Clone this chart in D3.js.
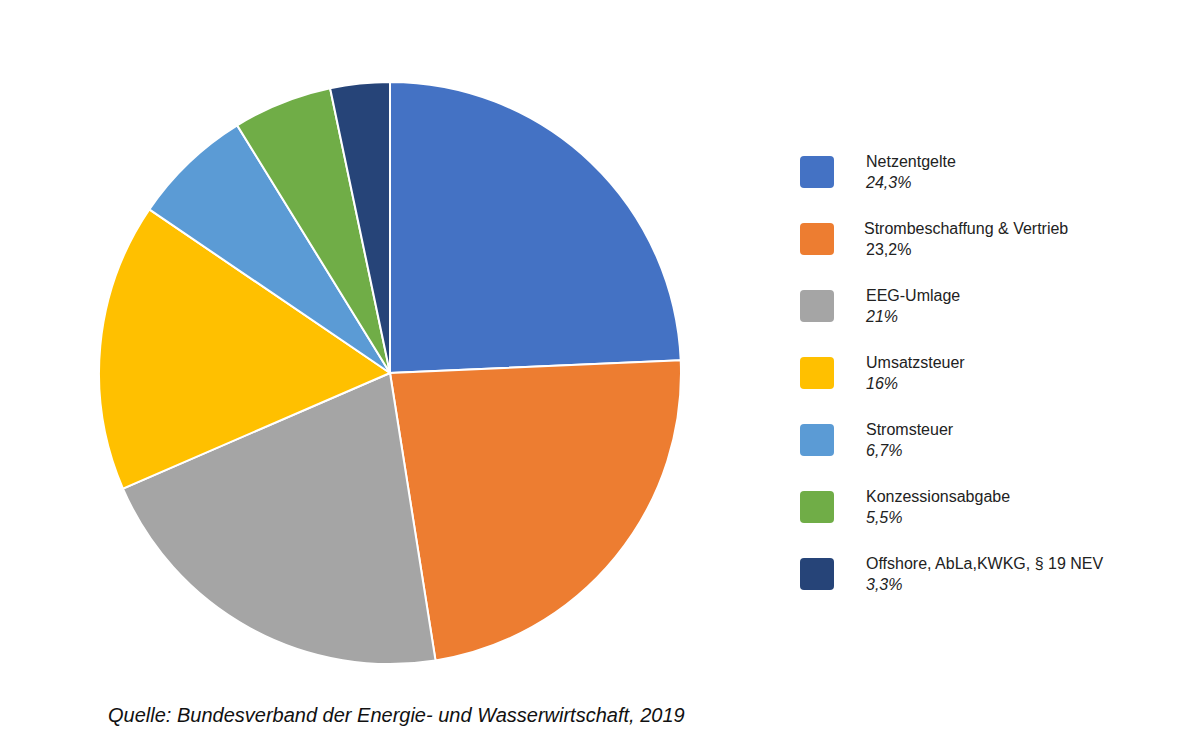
<!DOCTYPE html>
<html><head><meta charset="utf-8">
<script src="https://cdn.jsdelivr.net/npm/d3@7"></script>
<style>body{margin:0;background:#fff}</style>
</head><body>
<svg id="c" width="1200" height="750"></svg>
<script>
const categories = ["Netzentgelte","Strombeschaffung & Vertrieb","EEG-Umlage","Umsatzsteuer","Stromsteuer","Konzessionsabgabe","Offshore, AbLa,KWKG, § 19 NEV"];
const values = [24.3,23.2,21,16,6.7,5.5,3.3];
const valueLabels = ["24,3%","23,2%","21%","16%","6,7%","5,5%","3,3%"];
const italicValue = [true,false,true,true,true,true,true];
const colors = ["#4472C4","#ED7D31","#A5A5A5","#FFC000","#5B9BD5","#70AD47","#264478"];
const source = "Quelle: Bundesverband der Energie- und Wasserwirtschaft, 2019";

const svg = d3.select("#c");
const font = "'Liberation Sans', Arial, sans-serif";
const pie = d3.pie().sort(null).value(d=>d)(values);
const arc = d3.arc().innerRadius(0).outerRadius(291);
svg.append("g").attr("transform","translate(390,373)")
  .selectAll("path").data(pie).join("path")
  .attr("d",arc).attr("fill",(d,i)=>colors[i])
  .attr("stroke","#fff").attr("stroke-width",2);

const lg = svg.append("g");
categories.forEach((c,i)=>{
  const y = 156 + i*67;
  lg.append("rect").attr("x",800).attr("y",y).attr("width",34).attr("height",32).attr("rx",4).attr("fill",colors[i]);
  lg.append("text").attr("x", i===1?864:866).attr("y",y+11).attr("font-family",font).attr("font-size",16).attr("fill","#222").text(c);
  lg.append("text").attr("x",866).attr("y",y+32).attr("font-family",font).attr("font-size",16).attr("fill","#222")
    .attr("font-style",italicValue[i]?"italic":"normal").text(valueLabels[i]);
});
svg.append("text").attr("x",108).attr("y",722).attr("font-family",font).attr("font-size",20)
  .attr("font-style","italic").attr("fill","#111").text(source);
</script>
</body></html>
